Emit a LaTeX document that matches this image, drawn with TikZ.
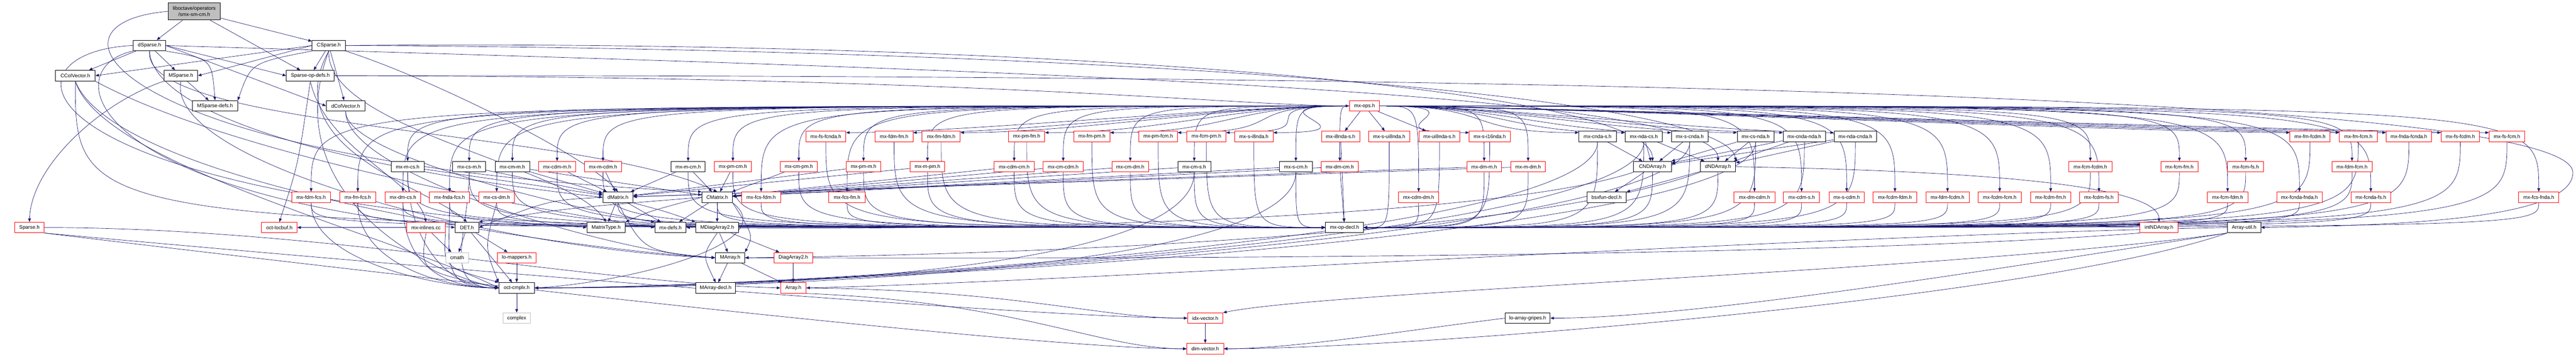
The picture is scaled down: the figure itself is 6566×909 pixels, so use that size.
\documentclass[tikz,border=0pt]{standalone}
\usepackage{fontspec}
\setmainfont{Liberation Sans}
\usetikzlibrary{arrows.meta,backgrounds,calc}
\definecolor{edgec}{HTML}{191970}
\definecolor{grayb}{HTML}{BFBFBF}
\newcommand\nfs{\fontsize{12.9}{15.5}\selectfont}
\tikzset{
 nbase/.style={rectangle, minimum height=27pt, inner xsep=2pt, inner ysep=0pt, fill=white, line width=1.2pt, font=\nfs, text=black},
 bnode/.style={nbase, draw=black},
 rnode/.style={nbase, draw=red},
 gnode/.style={nbase, draw=grayb},
 edg/.style={draw=edgec, line width=0.9pt, -{Triangle[length=9pt,width=7pt]}},
}
\newcommand\nodeb[5]{\node[bnode,minimum width=#5pt] (#1) at (#3,#4) {#2};}
\newcommand\noder[5]{\node[rnode,minimum width=#5pt] (#1) at (#3,#4) {#2};}
\newcommand\nodeg[5]{\node[gnode,minimum width=#5pt] (#1) at (#3,#4) {#2};}
\newcommand\opsl[1]{\draw[edg] (ops.west) .. controls +(-300,0) and +(300,0) .. ([yshift=10pt]#1.east);}
\newcommand\opsr[1]{\draw[edg] (ops.east) .. controls +(300,0) and +(-300,0) .. ([yshift=10pt]#1.west);}
\newcommand\opsld[1]{\draw[edg] (ops.west) .. controls (#1.north |- ops.west) .. (#1.north);}
\newcommand\opsrd[1]{\draw[edg] (ops.east) .. controls (#1.north |- ops.east) .. (#1.north);}
\newcommand\decll[1]{\draw[edg] (#1.south) .. controls (#1.south |- opdecl.west) .. (opdecl.west);}
\newcommand\declr[1]{\draw[edg] (#1.south) .. controls (#1.south |- opdecl.east) .. (opdecl.east);}
\newcommand\cplxr[1]{\draw[edg] (#1.south) .. controls +(0,250) and +(600,0) .. (cmplx.east);}
\newcommand\cplxl[1]{\draw[edg] (#1.south) .. controls +(0,150) and +(-150,0) .. (cmplx.west);}
\begin{document}
\begin{tikzpicture}[x=1pt,y=-1pt]
\useasboundingbox (0,0) rectangle (6566,909);
% row 0
\node[draw=black, fill=grayb, line width=1.2pt, minimum width=133pt, minimum height=44pt, align=center, font=\nfs, inner sep=2pt] (n0) at (495,29) {liboctave/operators\\/smx-sm-cm.h};
% row 1
\nodeb{dsparse}{dSparse.h}{381}{116}{82}
\nodeb{csparse}{CSparse.h}{838}{116}{85}
% row 2
\nodeb{ccolvec}{CColVector.h}{192}{193}{101}
\nodeb{msparse}{MSparse.h}{461}{193}{86}
\nodeb{sopdefs}{Sparse-op-defs.h}{791}{193}{122}
% row 3
\nodeb{msdefs}{MSparse-defs.h}{548}{270}{115}
\nodeb{dcolvec}{dColVector.h}{881}{270}{99}
\noder{ops}{mx-ops.h}{3478}{270}{77}
% row 4
\noder{fsfcnda}{mx-fs-fcnda.h}{2105}{348}{102}
\noder{fdmfm}{mx-fdm-fm.h}{2279}{348}{96}
\noder{fmfdm}{mx-fm-fdm.h}{2399}{348}{97}
\noder{pmfm}{mx-pm-fm.h}{2617}{348}{92}
\noder{fmpm}{mx-fm-pm.h}{2783}{348}{92}
\noder{pmfcm}{mx-pm-fcm.h}{2952}{348}{98}
\noder{fcmpm}{mx-fcm-pm.h}{3075}{348}{99}
\noder{si8nda}{mx-s-i8nda.h}{3196}{348}{98}
\noder{i8ndas}{mx-i8nda-s.h}{3417}{348}{97}
\noder{sui8nda}{mx-s-ui8nda.h}{3541}{348}{104}
\noder{ui8ndas}{mx-ui8nda-s.h}{3669}{348}{104}
\noder{si16nda}{mx-s-i16nda.h}{3797}{348}{104}
\nodeb{cndas}{mx-cnda-s.h}{4072}{348}{95}
\nodeb{ndacs}{mx-nda-cs.h}{4190}{348}{95}
\nodeb{scnda}{mx-s-cnda.h}{4307}{348}{94}
\nodeb{csnda}{mx-cs-nda.h}{4475}{348}{94}
\nodeb{cndanda}{mx-cnda-nda.h}{4599}{348}{108}
\nodeb{ndacnda}{mx-nda-cnda.h}{4729}{348}{108}
\noder{fmfcdm}{mx-fm-fcdm.h}{5888}{348}{102}
\noder{fmfcm}{mx-fm-fcm.h}{6011}{348}{96}
\noder{fndafcnda}{mx-fnda-fcnda.h}{6140}{348}{116}
\noder{fsfcdm}{mx-fs-fcdm.h}{6271}{348}{98}
\noder{fsfcm}{mx-fs-fcm.h}{6390}{348}{91}
% row 5
\nodeb{mcs}{mx-m-cs.h}{1039}{425}{84}
\nodeb{csm}{mx-cs-m.h}{1196}{425}{84}
\nodeb{cmm}{mx-cm-m.h}{1306}{425}{88}
\noder{cdmm}{mx-cdm-m.h}{1420}{425}{94}
\noder{mcdm}{mx-m-cdm.h}{1537}{425}{95}
\nodeb{mcm}{mx-m-cm.h}{1754}{425}{87}
\noder{pmcm}{mx-pm-cm.h}{1868}{425}{95}
\noder{cmpm}{mx-cm-pm.h}{2036}{425}{94}
\noder{pmm}{mx-pm-m.h}{2201}{425}{88}
\noder{mpm}{mx-m-pm.h}{2364}{425}{88}
\noder{cdmcm}{mx-cdm-cm.h}{2585}{425}{103}
\noder{cmcdm}{mx-cm-cdm.h}{2710}{425}{103}
\noder{cmdm}{mx-cm-dm.h}{2881}{425}{94}
\nodeb{cms}{mx-cm-s.h}{3044}{425}{84}
\nodeb{scm}{mx-s-cm.h}{3303}{425}{84}
\noder{dmcm}{mx-dm-cm.h}{3415}{425}{95}
\noder{dmm}{mx-dm-m.h}{3783}{425}{88}
\noder{mdm}{mx-m-dm.h}{3895}{425}{88}
\nodeb{cnda}{CNDArray.h}{4212}{425}{96}
\nodeb{dnda}{dNDArray.h}{4379}{425}{90}
\noder{fcmfcdm}{mx-fcm-fcdm.h}{5328}{425}{111}
\noder{fcmfm}{mx-fcm-fm.h}{5555}{425}{95}
\noder{fcmfs}{mx-fcm-fs.h}{5724}{425}{92}
\noder{fdmfcm}{mx-fdm-fcm.h}{5995}{425}{102}
% row 6
\noder{fdmfcs}{mx-fdm-fcs.h}{793}{503}{98}
\noder{fmfcs}{mx-fm-fcs.h}{912}{503}{92}
\noder{dmcs}{mx-dm-cs.h}{1027}{503}{90}
\noder{fndafcs}{mx-fnda-fcs.h}{1146}{503}{103}
\noder{csdm}{mx-cs-dm.h}{1266}{503}{91}
\nodeb{dmatrix}{dMatrix.h}{1575}{503}{77}
\nodeb{cmatrix}{CMatrix.h}{1828}{503}{78}
\noder{fcsfdm}{mx-fcs-fdm.h}{1940}{503}{99}
\noder{fcsfm}{mx-fcs-fm.h}{2159}{503}{94}
\noder{cdmdm}{mx-cdm-dm.h}{3616}{503}{103}
\nodeb{bsx}{bsxfun-decl.h}{4095}{503}{100}
\noder{dmcdm}{mx-dm-cdm.h}{4472}{503}{104}
\noder{cdms}{mx-cdm-s.h}{4592}{503}{92}
\noder{scdm}{mx-s-cdm.h}{4707}{503}{90}
\noder{fcdmfdm}{mx-fcdm-fdm.h}{4830}{503}{111}
\noder{fdmfcdm}{mx-fdm-fcdm.h}{4964}{503}{110}
\noder{fcdmfcm}{mx-fcdm-fcm.h}{5097}{503}{111}
\noder{fcdmfm}{mx-fcdm-fm.h}{5227}{503}{103}
\noder{fcdmfs}{mx-fcdm-fs.h}{5350}{503}{99}
\noder{fcmfdm}{mx-fcm-fdm.h}{5678}{503}{103}
\noder{fcndafnda}{mx-fcnda-fnda.h}{5861}{503}{115}
\noder{fcndafs}{mx-fcnda-fs.h}{6043}{503}{102}
\noder{fcsfnda}{mx-fcs-fnda.h}{6471}{503}{103}
% row 7
\noder{sparse}{Sparse.h}{75}{580}{75}
\noder{locbuf}{oct-locbuf.h}{712}{580}{90}
\noder{inlines}{mx-inlines.cc}{1086}{580}{98}
\nodeb{det}{DET.h}{1190}{580}{60}
\nodeb{mtype}{MatrixType.h}{1545}{580}{98}
\nodeb{mxdefs}{mx-defs.h}{1709}{580}{80}
\nodeb{mdiag}{MDiagArray2.h}{1828}{580}{110}
\nodeb{opdecl}{mx-op-decl.h}{3427}{580}{97}
\noder{intnda}{intNDArray.h}{5503}{580}{98}
\nodeb{autil}{Array-util.h}{5720}{580}{85}
% row 8
\nodeg{cmath}{cmath}{1165}{657}{58}
\noder{lomap}{lo-mappers.h}{1317}{657}{98}
\nodeb{marray}{MArray.h}{1861}{657}{75}
\noder{diag2}{DiagArray2.h}{2022}{657}{99}
% row 9
\nodeb{cmplx}{oct-cmplx.h}{1317}{734}{91}
\nodeb{mdecl}{MArray-decl.h}{1824}{734}{102}
\noder{array}{Array.h}{2022}{734}{65}
% row 10
\nodeg{complex}{complex}{1317}{811}{70}
\noder{idx}{idx-vector.h}{3072}{811}{90}
\nodeb{gripes}{lo-array-gripes.h}{3894}{811}{114}
% row 11
\noder{dimv}{dim-vector.h}{3072}{889}{94}
\coordinate (rturn) at (6558,440);

\begin{pgfonlayer}{background}
\fill[white] (0,0) rectangle (6566,909);
% mx-ops fan-out
\foreach \t in {fsfcnda,fdmfm,fmfdm,pmfm,fmpm,pmfcm,fcmpm,si8nda} {\opsl{\t}}
\draw[edg] (ops) -- (i8ndas);
\draw[edg] (ops) -- (sui8nda);
\draw[edg] (ops) -- (ui8ndas);
\foreach \t in {si16nda,cndas,ndacs,scnda,csnda,cndanda,ndacnda,fmfcdm,fmfcm,fndafcnda,fsfcdm,fsfcm} {\opsr{\t}}
\foreach \t in {mcs,csm,cmm,cdmm,mcdm,mcm,pmcm,cmpm,pmm,mpm,cdmcm,cmcdm,cmdm,cms,scm,dmcm,fdmfcs,fmfcs,dmcs,fndafcs,csdm,fcsfdm,fcsfm} {\opsld{\t}}
\foreach \t in {dmm,mdm,fcmfcdm,fcmfm,fcmfs,fdmfcm,cdmdm,dmcdm,cdms,scdm,fcdmfdm,fdmfcdm,fcdmfcm,fcdmfm,fcdmfs,fcmfdm,fcndafnda,fcndafs,fcsfnda} {\opsrd{\t}}
% mx-op-decl fan-in
\foreach \s in {fsfcnda,fdmfm,fmfdm,pmfm,fmpm,pmfcm,fcmpm,si8nda,mcs,csm,cmm,cdmm,mcdm,mcm,pmcm,cmpm,pmm,mpm,cdmcm,cmcdm,cmdm,cms,scm,fdmfcs,fmfcs,dmcs,fndafcs,csdm,fcsfdm,fcsfm,ccolvec,dmatrix,cmatrix} {\decll{\s}}
\draw[edg] (i8ndas) -- (opdecl);
\draw[edg] (dmcm) -- (opdecl);
\foreach \s in {sui8nda,ui8ndas,si16nda,cndas,ndacs,scnda,csnda,cndanda,ndacnda,fmfcdm,fmfcm,fndafcnda,fsfcdm,fsfcm,dmm,mdm,fcmfcdm,fcmfm,fcmfs,fdmfcm,cdmdm,dmcdm,cdms,scdm,fcdmfdm,fdmfcdm,fcdmfcm,fcdmfm,fcdmfs,fcmfdm,fcndafnda,fcndafs,fcsfnda,cnda,dnda} {\declr{\s}}
% straight edges
\foreach \s/\t in {mcs/dmatrix, csm/dmatrix, cmm/dmatrix, cmm/cmatrix, cdmm/dmatrix, mcdm/dmatrix, mcm/dmatrix, mcm/cmatrix, pmcm/cmatrix, cmpm/cmatrix, pmm/dmatrix, mpm/dmatrix, cdmcm/cmatrix, cmcdm/cmatrix, cmdm/cmatrix, cms/cmatrix, scm/cmatrix, dmcm/cmatrix, dmm/dmatrix, mdm/dmatrix, cndas/cnda, ndacs/cnda, ndacs/dnda, scnda/cnda, csnda/cnda, csnda/dnda, cndanda/cnda, cndanda/dnda, ndacnda/dnda, ndacnda/cnda, cnda/bsx, dnda/bsx, mdiag/marray, mdiag/diag2, marray/mdecl, marray/array, diag2/array, idx/dimv, det/cmath, det/lomap, det/cmplx, lomap/cmplx, cmplx/complex, inlines/cmath, dmatrix/mtype, dmatrix/mxdefs, cmatrix/mdiag, cmatrix/mxdefs, dsparse/ccolvec, dsparse/msparse, n0/dsparse, n0/csparse, n0/sopdefs, csparse/sopdefs, csparse/dcolvec, msparse/msdefs}
 {\draw[edg] (\s) -- (\t);}
% to oct-cmplx
\foreach \s in {fdmfcs,fmfcs,dmcs,fndafcs,mcs,csm} {\cplxl{\s}}
\draw[edg] (csdm.south) .. controls (1235,630) .. (cmplx.north west);
\foreach \s in {cms,scm,cndas,ndacs,scnda,csnda} {\cplxr{\s}}
% top node and sparse headers
\draw[edg] (n0.west) .. controls (60,60) and (300,420) .. (cmatrix.north west);
\draw[edg] (dsparse.south east) .. controls (540,150) .. (msdefs.north);
\draw[edg] (dsparse.east) -- (sopdefs.west);
\draw[edg] (dsparse.east) -- (dcolvec.west);
\draw[edg] (dsparse.west) .. controls (0,130) and (0,480) .. (mtype.west);
\draw[edg] (dsparse.south west) .. controls (150,170) and (200,480) .. (det.west);
\draw[edg] (dsparse.south) .. controls (390,280) and (800,420) .. (dmatrix.west);
\draw[edg] (dsparse.south) .. controls (360,330) and (1500,330) .. (cmatrix.north);
\draw[edg] (dsparse.east) .. controls (2200,170) and (4379,220) .. (dnda.north);
\draw[edg] (csparse.west) -- (msparse.east);
\draw[edg] (csparse.west) -- (ccolvec.east);
\draw[edg] (csparse.south west) .. controls (640,160) .. (msdefs.north east);
\draw[edg] (csparse.east) .. controls (2600,100) and (4212,220) .. (cnda.north);
\draw[edg] (csparse.east) .. controls (2800,125) and (4400,240) .. (dnda.north east);
\draw[edg] (csparse.south) .. controls (830,330) and (1450,420) .. (mtype.north);
\draw[edg] (csparse.south) .. controls (700,380) and (1100,480) .. (det.north);
\draw[edg] (csparse.south) .. controls (700,500) and (1100,700) .. (cmplx.west);
\draw[edg] (csparse.south east) .. controls (1100,200) and (1500,400) .. (dmatrix.north);
\draw[edg] (sopdefs.east) .. controls (2500,195) and (3150,270) .. (ops.west);
\draw[edg] (sopdefs.east) .. controls (3500,190) and (6558,230) .. (rturn) .. controls (6558,560) and (6100,575) .. (autil.east);
\draw[edg] (sopdefs.south) .. controls (760,420) .. (locbuf.north);
\draw[edg] (sopdefs.south) .. controls (830,380) and (1060,460) .. (inlines.north);
\draw[edg] (msparse.south west) .. controls (260,260) and (80,420) .. (sparse.north);
\draw[edg] (msparse.south) .. controls (420,420) and (1300,640) .. (marray.west);
\draw[edg] (ccolvec.south) .. controls (260,420) and (1000,600) .. (cmplx.west);
\draw[edg] (ccolvec.south east) .. controls (600,400) and (1400,540) .. (mxdefs.west);
\draw[edg] (ccolvec.south) .. controls (300,480) and (1500,640) .. (marray.west);
\draw[edg] (dcolvec.south) .. controls (880,400) and (1500,540) .. (mxdefs.north west);
\draw[edg] (dcolvec.south) .. controls (880,450) and (1600,650) .. (marray.west);
\draw[edg] (sparse.east) .. controls (800,580) and (1500,720) .. (array.west);
\draw[edg] (sparse.south east) .. controls (1500,720) and (2700,810) .. (idx.west);
\draw[edg] (sparse.south east) .. controls (1500,760) and (2700,890) .. (dimv.west);
\draw[edg] (inlines.south) .. controls (1070,690) .. (cmplx.west);
\draw[edg] (inlines.south east) .. controls (1130,680) .. (cmplx.north west);
\draw[edg] (inlines.west) -- (locbuf.east);
\draw[edg] (dmatrix.west) .. controls (1400,510) .. (det.east);
\draw[edg] (dmatrix.south) .. controls (1640,640) .. (marray.west);
\draw[edg] (dmatrix.south east) .. controls (1700,540) .. (mdiag.north west);
\draw[edg] (cmatrix.south east) .. controls (1920,600) .. (marray.north east);
\draw[edg] (cmatrix.west) .. controls (1450,530) .. (det.north east);
\draw[edg] (cmatrix.west) .. controls (1650,540) .. (mtype.north east);
\draw[edg] (cmatrix.south east) .. controls (2000,620) and (1600,720) .. (cmplx.east);
\draw[edg] (mdiag.south) .. controls (1790,650) .. (mdecl.north);
\draw[edg] (array.east) .. controls (2600,740) and (2800,811) .. (idx.west);
\draw[edg] (array.south east) .. controls (2600,770) and (2800,889) .. (dimv.west);
\draw[edg] (autil.west) .. controls (4600,600) and (2700,720) .. (array.east);
\draw[edg] (autil.south west) .. controls (5000,690) and (3400,740) .. (idx.north east);
\draw[edg] (autil.south west) .. controls (5000,700) and (4300,811) .. (gripes.east);
\draw[edg] (autil.south west) .. controls (5200,760) and (3600,889) .. (dimv.east);
\draw[edg] (gripes.west) .. controls (3600,840) and (3300,889) .. (dimv.east);
\draw[edg] (dnda.east) .. controls (5300,440) and (5503,500) .. (intnda.north);
\draw[edg] (cnda.south west) .. controls (3800,560) and (2500,590) .. (mxdefs.east);
\draw[edg] (dnda.south west) .. controls (3900,600) and (2600,650) .. (marray.east);
\draw[edg] (intnda.south west) .. controls (4600,660) and (2600,660) .. (marray.east);
\end{pgfonlayer}
\end{tikzpicture}
\end{document}
